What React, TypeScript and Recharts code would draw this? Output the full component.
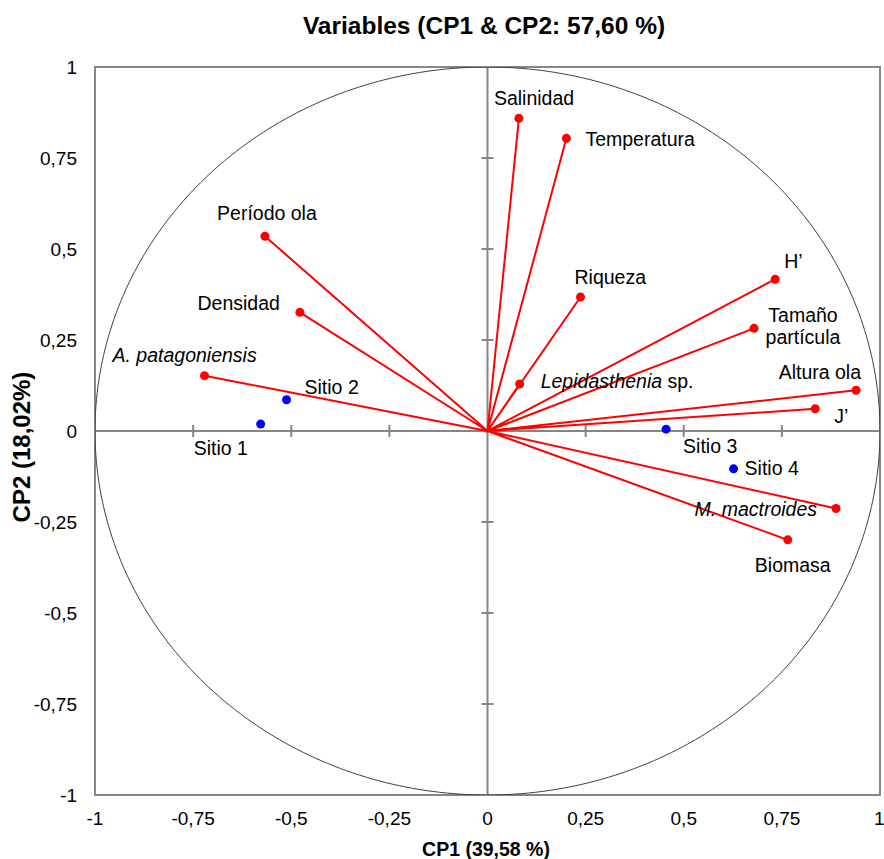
import { ScatterChart, Scatter, XAxis, YAxis, ReferenceLine, ReferenceArea } from "recharts";

// loadings on CP1 / CP2
const variableNames = [
  "Salinidad", "Temperatura", "Período ola", "Densidad", "A. patagoniensis", "Riqueza", "H’",
  "Tamaño partícula", "Lepidasthenia sp.", "Altura ola", "J’", "M. mactroides", "Biomasa",
];
const variableCP1 = [0.08, 0.201, -0.567, -0.478, -0.721, 0.237, 0.733, 0.679, 0.082, 0.939, 0.835, 0.888, 0.765];
const variableCP2 = [0.859, 0.804, 0.535, 0.326, 0.152, 0.368, 0.417, 0.282, 0.129, 0.112, 0.061, -0.213, -0.299];

const siteNames = ["Sitio 1", "Sitio 2", "Sitio 3", "Sitio 4"];
const siteCP1 = [-0.578, -0.512, 0.455, 0.627];
const siteCP2 = [0.019, 0.086, 0.005, -0.104];

const axisTicks = [-1, -0.75, -0.5, -0.25, 0, 0.25, 0.5, 0.75, 1];

const FONT = "'Liberation Sans', Arial, sans-serif";
const GRAY = "#868686";

type Part = { t: string; i?: boolean };
type LabelCfg = { anchor: "start" | "middle" | "end"; dx: number; dy: number; lines: Part[][] };

// label placement relative to each point (styling only)
const labelCfg: Record<string, LabelCfg> = {
  "Salinidad": { anchor: "start", dx: -25, dy: -13, lines: [[{ t: "Salinidad" }]] },
  "Temperatura": { anchor: "start", dx: 19, dy: 8, lines: [[{ t: "Temperatura" }]] },
  "Período ola": { anchor: "middle", dx: 2, dy: -16, lines: [[{ t: "Período ola" }]] },
  "Densidad": { anchor: "end", dx: -20, dy: -2, lines: [[{ t: "Densidad" }]] },
  "A. patagoniensis": { anchor: "start", dx: -92, dy: -14, lines: [[{ t: "A. patagoniensis", i: true }]] },
  "Riqueza": { anchor: "start", dx: -6, dy: -13, lines: [[{ t: "Riqueza" }]] },
  "H’": { anchor: "start", dx: 9, dy: -11, lines: [[{ t: "H’" }]] },
  "Tamaño partícula": { anchor: "middle", dx: 49, dy: -6, lines: [[{ t: "Tamaño" }], [{ t: "partícula" }]] },
  "Lepidasthenia sp.": { anchor: "start", dx: 21, dy: 4, lines: [[{ t: "Lepidasthenia", i: true }, { t: " sp." }]] },
  "Altura ola": { anchor: "end", dx: 5, dy: -11, lines: [[{ t: "Altura ola" }]] },
  "J’": { anchor: "start", dx: 19, dy: 14, lines: [[{ t: "J’" }]] },
  "M. mactroides": { anchor: "end", dx: -19, dy: 7, lines: [[{ t: "M. mactroides", i: true }]] },
  "Biomasa": { anchor: "middle", dx: 5, dy: 32, lines: [[{ t: "Biomasa" }]] },
  "Sitio 1": { anchor: "start", dx: -67, dy: 31, lines: [[{ t: "Sitio 1" }]] },
  "Sitio 2": { anchor: "start", dx: 18, dy: -6, lines: [[{ t: "Sitio 2" }]] },
  "Sitio 3": { anchor: "start", dx: 17, dy: 24, lines: [[{ t: "Sitio 3" }]] },
  "Sitio 4": { anchor: "start", dx: 11, dy: 6, lines: [[{ t: "Sitio 4" }]] },
};

// arrows: origin -> loading, repeated so one line series draws every segment
const arrowData = variableNames.flatMap((name, i) => [
  { x: 0, y: 0, name, origin: true },
  { x: variableCP1[i], y: variableCP2[i], name, origin: false },
]);
const siteData = siteNames.map((name, i) => ({ x: siteCP1[i], y: siteCP2[i], name, origin: false }));

// correlation circle (radius 1)
const circleData = Array.from({ length: 361 }, (_, d) => ({
  x: Math.cos((d * Math.PI) / 180),
  y: Math.sin((d * Math.PI) / 180),
}));

const xTickMarks = axisTicks.filter(t => t !== 0).map(t => ({ x: t, y: 0 }));
const yTickMarks = axisTicks.filter(t => t !== 0).map(t => ({ x: 0, y: t }));

const fmt = (v: number) => String(v).replace(".", ",");

const PointLabel = ({ cx, cy, name }: { cx: number; cy: number; name: string }) => {
  const cfg = labelCfg[name];
  if (!cfg) return null;
  return (
    <text x={cx + cfg.dx} y={cy + cfg.dy} textAnchor={cfg.anchor} fontFamily={FONT} fontSize={19.5} fill="#000">
      {cfg.lines.map((line, li) => (
        <tspan key={li} x={cx + cfg.dx} dy={li === 0 ? 0 : 22}>
          {line.map((p, pi) => (
            <tspan key={pi} fontStyle={p.i ? "italic" : "normal"}>{p.t}</tspan>
          ))}
        </tspan>
      ))}
    </text>
  );
};

const makeDot = (color: string, r: number) => (props: any) => {
  const { cx, cy, payload } = props;
  if (!payload || payload.origin) return <g />;
  return (
    <g>
      <circle cx={cx} cy={cy} r={r} fill={color} />
      <PointLabel cx={cx} cy={cy} name={payload.name} />
    </g>
  );
};

const VTick = (props: any) => <line x1={props.cx} x2={props.cx} y1={props.cy - 6} y2={props.cy + 6} stroke={GRAY} strokeWidth={2} />;
const HTick = (props: any) => <line x1={props.cx - 6} x2={props.cx + 6} y1={props.cy} y2={props.cy} stroke={GRAY} strokeWidth={2} />;

export default function App() {
  return (
    <div style={{ position: "absolute", left: 0, top: 0, width: 884, height: 859, background: "#fff" }}>
      <ScatterChart width={884} height={859} margin={{ top: 67, right: 4, bottom: 24, left: 0 }}>
        <XAxis
          type="number"
          dataKey="x"
          domain={[-1, 1]}
          ticks={axisTicks}
          tickFormatter={fmt}
          axisLine={false}
          tickLine={false}
          tickSize={0}
          tickMargin={17}
          height={40}
          allowDataOverflow
          tick={{ fontSize: 19, fontFamily: FONT, fill: "#000" }}
        />
        <YAxis
          type="number"
          dataKey="y"
          domain={[-1, 1]}
          ticks={axisTicks}
          tickFormatter={fmt}
          axisLine={false}
          tickLine={false}
          tickSize={0}
          tickMargin={18}
          width={95}
          allowDataOverflow
          tick={{ fontSize: 19, fontFamily: FONT, fill: "#000" }}
        />
        <ReferenceArea x1={-1} x2={1} y1={-1} y2={1} fill="none" fillOpacity={0} stroke={GRAY} strokeWidth={2} />
        <ReferenceLine x={0} stroke={GRAY} strokeWidth={2} />
        <ReferenceLine y={0} stroke={GRAY} strokeWidth={2} />
        <Scatter data={xTickMarks} shape={VTick} isAnimationActive={false} />
        <Scatter data={yTickMarks} shape={HTick} isAnimationActive={false} />
        <Scatter
          data={circleData}
          line={{ stroke: "#404040", strokeWidth: 1 }}
          shape={() => <g />}
          isAnimationActive={false}
        />
        <Scatter
          data={arrowData}
          line={{ stroke: "#ff0000", strokeWidth: 2 }}
          shape={makeDot("#ff0000", 4.5)}
          isAnimationActive={false}
        />
        <Scatter data={siteData} shape={makeDot("#0000ff", 4.5)} isAnimationActive={false} />
      </ScatterChart>
      <svg width={884} height={859} style={{ position: "absolute", left: 0, top: 0, pointerEvents: "none" }}>
        <text x={484} y={34} textAnchor="middle" fontFamily={FONT} fontWeight="bold" fontSize={24.5} fill="#000">
          Variables (CP1 &amp; CP2: 57,60 %)
        </text>
        <text x={486} y={856} textAnchor="middle" fontFamily={FONT} fontWeight="bold" fontSize={19.5} fill="#000">
          CP1 (39,58 %)
        </text>
        <text
          x={30}
          y={447}
          textAnchor="middle"
          fontFamily={FONT}
          fontWeight="bold"
          fontSize={24}
          fill="#000"
          transform="rotate(-90 30 447)"
        >
          CP2 (18,02%)
        </text>
      </svg>
    </div>
  );
}
